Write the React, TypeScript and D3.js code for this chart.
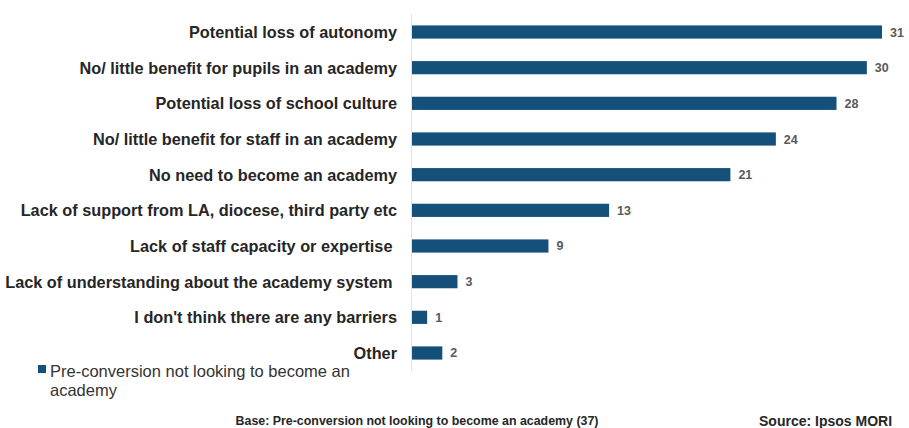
import React from "react";
import * as d3 from "d3";

const categories = [
  "Potential loss of autonomy",
  "No/ little benefit for pupils in an academy",
  "Potential loss of school culture",
  "No/ little benefit for staff in an academy",
  "No need to become an academy",
  "Lack of support from LA, diocese, third party etc",
  "Lack of staff capacity or expertise ",
  "Lack of understanding about the academy system ",
  "I don't think there are any barriers",
  "Other",
];
const values = [31, 30, 28, 24, 21, 13, 9, 3, 1, 2];

const W = 909;
const H = 428;
const x0 = 412;
const color = "#15507a";

export default function App() {
  const x = d3.scaleLinear().domain([0, 31]).range([x0, 882]);
  const y = d3.scaleBand().domain(categories).range([14, 371]).paddingInner(0.63).paddingOuter(0.32);
  return (
    <svg width={W} height={H} style={{ position: "absolute", left: 0, top: 0 }}
      fontFamily="'Liberation Sans', Arial, sans-serif">
      <line x1={x0 - 0.5} x2={x0 - 0.5} y1={14} y2={371} stroke="#e3e3e3" strokeWidth={1} />
      {categories.map((c, i) => {
        const yc = (y(c) as number) + y.bandwidth() / 2;
        return (
          <g key={c}>
            <rect x={x0} y={y(c)} width={x(values[i]) - x0} height={y.bandwidth()} fill={color} />
            <text x={397} y={yc} dy="0.36em" textAnchor="end" fontSize={16.3} fontWeight="bold" fill="#262626"
              style={{ whiteSpace: "pre" }}>{c}</text>
            <text x={x(values[i]) + 8} y={yc} dy="0.36em" fontSize={12.5} fontWeight="bold" fill="#595959">{values[i]}</text>
          </g>
        );
      })}
      <rect x={38} y={365} width={8} height={8} fill={color} />
      <text x={50} y={377} fontSize={16.5} fill="#333">Pre-conversion not looking to become an</text>
      <text x={50} y={396} fontSize={16.5} fill="#333">academy</text>
      <text x={417} y={425} textAnchor="middle" fontSize={12.4} fontWeight="bold" fill="#262626">
        Base: Pre-conversion not looking to become an academy (37)
      </text>
      <text x={759} y={426} fontSize={14} fontWeight="bold" fill="#262626">Source: Ipsos MORI</text>
    </svg>
  );
}
